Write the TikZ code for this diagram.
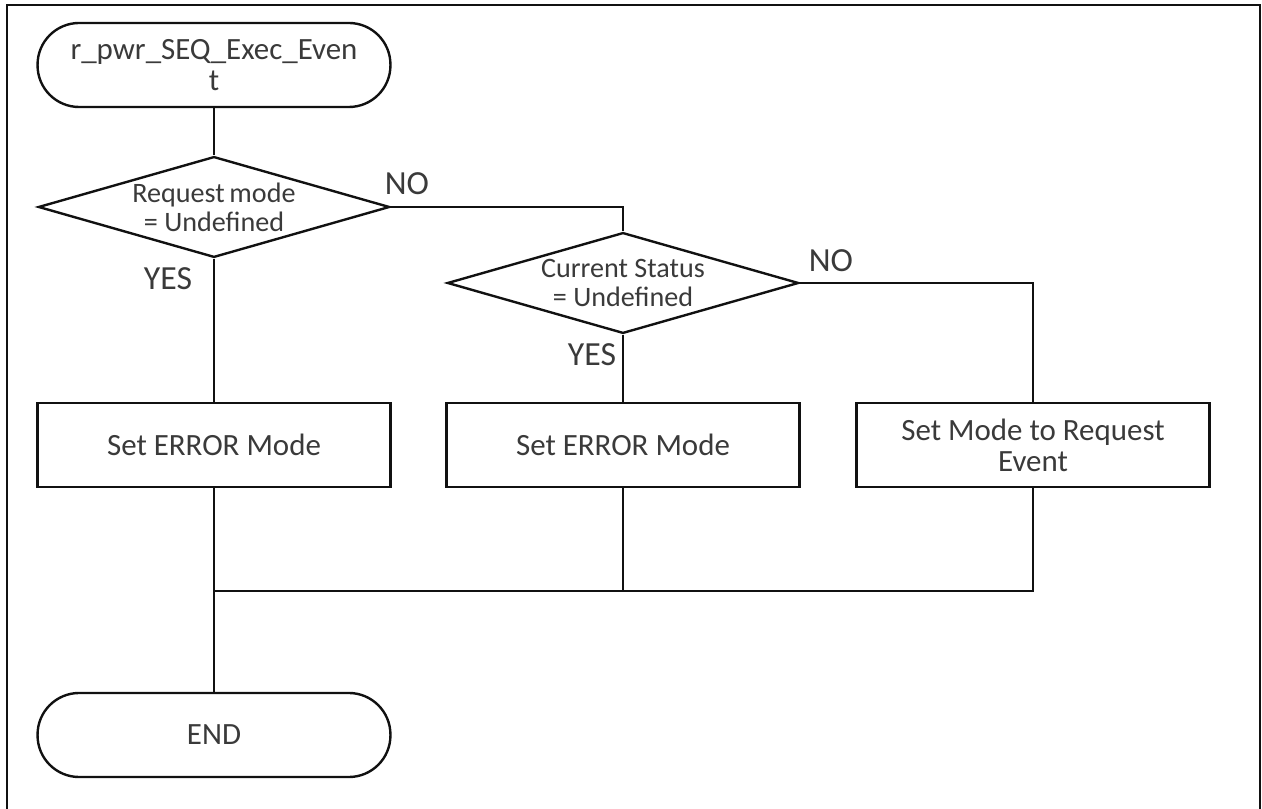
\documentclass[tikz,border=0pt]{standalone}
\usepackage{fontspec}
\setmainfont{Carlito}
\usetikzlibrary{shapes.geometric}
\definecolor{fcText}{HTML}{3A3A3A}
\definecolor{fcLine}{HTML}{111111}

\begin{document}
\begin{tikzpicture}[x=0.0125cm,y=-0.0125cm,font=\fontsize{11}{11}\selectfont,
  termBox/.style={draw=fcLine,line width=0.85pt,rectangle,rounded corners=0.52cm,minimum width=4.41cm,minimum height=1.05cm,inner sep=0pt,text=fcText,align=center},
  decBox/.style={draw=fcLine,line width=0.85pt,diamond,aspect=3.5,minimum width=4.39cm,minimum height=1.26cm,inner xsep=0pt,inner ysep=-3pt,text=fcText,align=center,font=\fontsize{10}{10.4}\selectfont},
  procBox/.style={draw=fcLine,line width=0.85pt,rectangle,minimum width=4.41cm,minimum height=1.05cm,inner sep=0pt,text=fcText,align=center},
  conn/.style={draw=fcLine,line width=0.4pt},
  lbl/.style={text=fcText,inner sep=0pt,font=\fontsize{12}{14}\selectfont}]
  \path[use as bounding box] (0,0) rectangle (1262,809);
  \draw[fcLine,line width=0.55pt] (7,812) -- (7,5) -- (1260,5) -- (1260,812);
  \node[termBox] (start) at (214,65) {r\_pwr\_SEQ\_Exec\_Even\\t};
  \node[decBox] (reqDec) at (214,207) {Request\,mode\\= Undefined};
  \node[decBox] (curDec) at (623,283) {Current Status\\= Undefined};
  \node[procBox] (errA) at (214,445) {Set ERROR Mode};
  \node[procBox] (errB) at (623,445) {Set ERROR Mode};
  \node[procBox] (setReq) at (1033,445) {Set Mode to Request\\Event};
  \node[termBox] (stop) at (214,735) {END};
  \coordinate (merge) at (214,591);
  \node[lbl] (yesA) at (168,279) {YES};
  \node[lbl] (noA) at (407,184) {NO};
  \node[lbl] (yesB) at (592,355) {YES};
  \node[lbl] (noB) at (831,261) {NO};
  \draw[conn] (start) -- (reqDec);
  \draw[conn] (reqDec) -- (errA);
  \draw[conn] (reqDec.east) -| (curDec.north);
  \draw[conn] (curDec) -- (errB);
  \draw[conn] (curDec.east) -| (setReq.north);
  \draw[conn] (errA) -- (stop);
  \draw[conn] (setReq.south) |- (merge);
  \draw[conn] (errB.south) -- (errB.south |- merge);
\end{tikzpicture}
\end{document}
